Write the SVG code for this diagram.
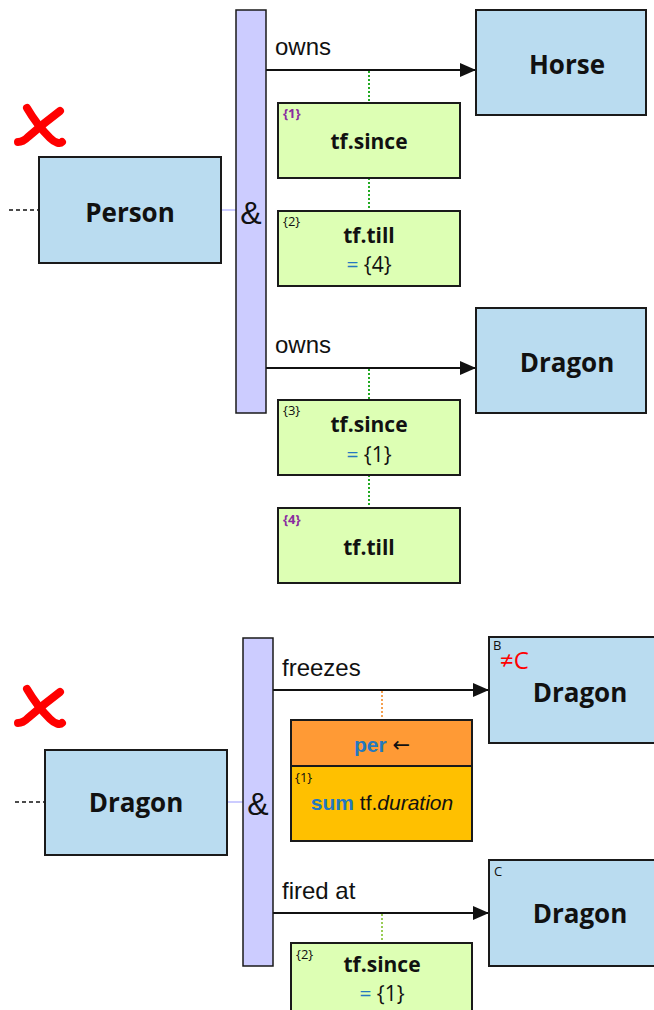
<svg xmlns="http://www.w3.org/2000/svg" width="654" height="1010" viewBox="0 0 654 1010">
<style>
.ent{fill:#BADCF0;stroke:#1a1a1a;stroke-width:2}
.amp{fill:#CCCCFF;stroke:#1a1a1a;stroke-width:1.5}
.tf{fill:#DDFFB4;stroke:#1a1a1a;stroke-width:2}
.lbl{font-family:"Open Sans","Liberation Sans",sans-serif;font-weight:bold;fill:#111;text-anchor:middle}
.big{font-size:26px}
.mid{font-size:21px}
.eq{font-family:"Open Sans","Liberation Sans",sans-serif;font-size:21px;fill:#111;text-anchor:middle}
.idx{font-family:"Open Sans","Liberation Sans",sans-serif;font-size:13px;fill:#111}
.idxp{font-family:"Open Sans","Liberation Sans",sans-serif;font-size:13px;fill:#8A2BA0;font-weight:bold}
.rel{font-family:"Liberation Sans",Arial,sans-serif;font-size:24px;fill:#111}
.blue{fill:#2478C0}
.arr{stroke:#111;stroke-width:2;fill:none;marker-end:url(#ah)}
.xmark{stroke:#ff0000;stroke-width:8;stroke-linecap:round;fill:none}
.ampt{font-family:"Liberation Sans",Arial,sans-serif;font-size:32px;fill:#111;text-anchor:middle}
</style>
<defs>
<marker id="ah" markerWidth="16" markerHeight="14" refX="16" refY="7" orient="auto" markerUnits="userSpaceOnUse">
<path d="M0,0 L16,7 L0,14 Z" fill="#111"/>
</marker>
</defs>

<g id="connectors">
<line x1="9" y1="210" x2="39" y2="210" stroke="#111" stroke-width="1.5" stroke-dasharray="4,3"/>
<line x1="221" y1="210" x2="236" y2="210" stroke="#CCCCFF" stroke-width="2"/>
<line class="arr" x1="266" y1="70" x2="476" y2="70"/>
<line class="arr" x1="266" y1="368" x2="476" y2="368"/>
<line x1="369" y1="71" x2="369" y2="103" stroke="#22aa22" stroke-width="2" stroke-dasharray="2,2"/>
<line x1="369" y1="178" x2="369" y2="211" stroke="#22aa22" stroke-width="2" stroke-dasharray="2,2"/>
<line x1="369" y1="369" x2="369" y2="400" stroke="#22aa22" stroke-width="2" stroke-dasharray="2,2"/>
<line x1="369" y1="475" x2="369" y2="508" stroke="#22aa22" stroke-width="2" stroke-dasharray="2,2"/>
<text class="rel" x="275" y="55">owns</text>
<text class="rel" x="275" y="353">owns</text>

<line x1="15" y1="802" x2="45" y2="802" stroke="#111" stroke-width="1.5" stroke-dasharray="4,3"/>
<line x1="227" y1="802" x2="243" y2="802" stroke="#CCCCFF" stroke-width="2"/>
<line class="arr" x1="273" y1="690" x2="489" y2="690"/>
<line class="arr" x1="273" y1="913" x2="489" y2="913"/>
<line x1="382" y1="691" x2="382" y2="720" stroke="#F5A050" stroke-width="2" stroke-dasharray="2,2"/>
<line x1="382" y1="914" x2="382" y2="943" stroke="#99cc55" stroke-width="2" stroke-dasharray="2,2"/>
<text class="rel" x="282" y="676">freezes</text>
<text class="rel" x="282" y="899">fired at</text>
</g>

<g id="xmark1">
<path class="xmark" d="M27,108 C34,120 43,131 50,138 C55,143 60,144 62,142"/>
<path class="xmark" d="M60,111 C48,120 36,130 28,137 C24,141 21,142 18,142"/>
</g>
<g id="xmark2">
<path class="xmark" d="M27,689 C34,701 43,712 50,719 C55,724 60,725 62,723"/>
<path class="xmark" d="M60,692 C48,701 36,711 28,718 C24,722 21,723 18,723"/>
</g>

<g id="and1">
<rect class="amp" x="236" y="10" width="30" height="403"/>
<text class="ampt" x="251" y="224">&amp;</text>
</g>
<g id="person">
<rect class="ent" x="39" y="157" width="182" height="106"/>
<text class="lbl big" x="130" y="222">Person</text>
</g>
<g id="horse">
<rect class="ent" x="476" y="10" width="170" height="105"/>
<text class="lbl big" x="567" y="74">Horse</text>
</g>
<g id="since1">
<rect class="tf" x="278" y="103" width="182" height="75"/>
<text class="idxp" x="283" y="118">{1}</text>
<text class="lbl mid" x="369" y="149">tf.since</text>
</g>
<g id="till2">
<rect class="tf" x="278" y="211" width="182" height="75"/>
<text class="idx" x="283" y="226">{2}</text>
<text class="lbl mid" x="369" y="243">tf.till</text>
<text class="eq" x="369" y="272"><tspan class="blue">=</tspan> {4}</text>
</g>
<g id="dragon1">
<rect class="ent" x="476" y="308" width="170" height="105"/>
<text class="lbl big" x="567" y="372">Dragon</text>
</g>
<g id="since3">
<rect class="tf" x="278" y="400" width="182" height="75"/>
<text class="idx" x="283" y="415">{3}</text>
<text class="lbl mid" x="369" y="432">tf.since</text>
<text class="eq" x="369" y="462"><tspan class="blue">=</tspan> {1}</text>
</g>
<g id="till4">
<rect class="tf" x="278" y="508" width="182" height="75"/>
<text class="idxp" x="283" y="524">{4}</text>
<text class="lbl mid" x="369" y="555">tf.till</text>
</g>

<g id="and2">
<rect class="amp" x="243" y="638" width="30" height="328"/>
<text class="ampt" x="258" y="815">&amp;</text>
</g>
<g id="dragonA">
<rect class="ent" x="45" y="750" width="182" height="105"/>
<text class="lbl big" x="136" y="812">Dragon</text>
</g>
<g id="dragonB">
<rect class="ent" x="489" y="637" width="170" height="106"/>
<text class="idx" x="493" y="650">B</text>
<text x="500" y="669" font-family="Open Sans,Liberation Sans,sans-serif" font-size="24" fill="#ff0000">≠C</text>
<text class="lbl big" x="580" y="702">Dragon</text>
</g>
<g id="per">
<rect x="291" y="720" width="181" height="46" fill="#FF9A35" stroke="#1a1a1a" stroke-width="2"/>
<text x="382" y="752" font-family="Liberation Sans,Arial,sans-serif" font-size="21" text-anchor="middle" fill="#111"><tspan class="blue" font-weight="bold">per</tspan> <tspan font-family="DejaVu Sans,sans-serif">←</tspan></text>
</g>
<g id="sum">
<rect x="291" y="766" width="181" height="75" fill="#FFC000" stroke="#1a1a1a" stroke-width="2"/>
<text class="idx" x="295" y="782">{1}</text>
<text x="382" y="810" font-family="Liberation Sans,Arial,sans-serif" font-size="21" text-anchor="middle" fill="#111"><tspan class="blue" font-weight="bold">sum</tspan> tf.<tspan font-style="italic">duration</tspan></text>
</g>
<g id="dragonC">
<rect class="ent" x="489" y="860" width="170" height="106"/>
<text class="idx" x="494" y="876">C</text>
<text class="lbl big" x="580" y="923">Dragon</text>
</g>
<g id="since2b">
<rect class="tf" x="291" y="943" width="181" height="80"/>
<text class="idx" x="296" y="959">{2}</text>
<text class="lbl mid" x="382" y="972">tf.since</text>
<text class="eq" x="382" y="1001"><tspan class="blue">=</tspan> {1}</text>
</g>
</svg>
